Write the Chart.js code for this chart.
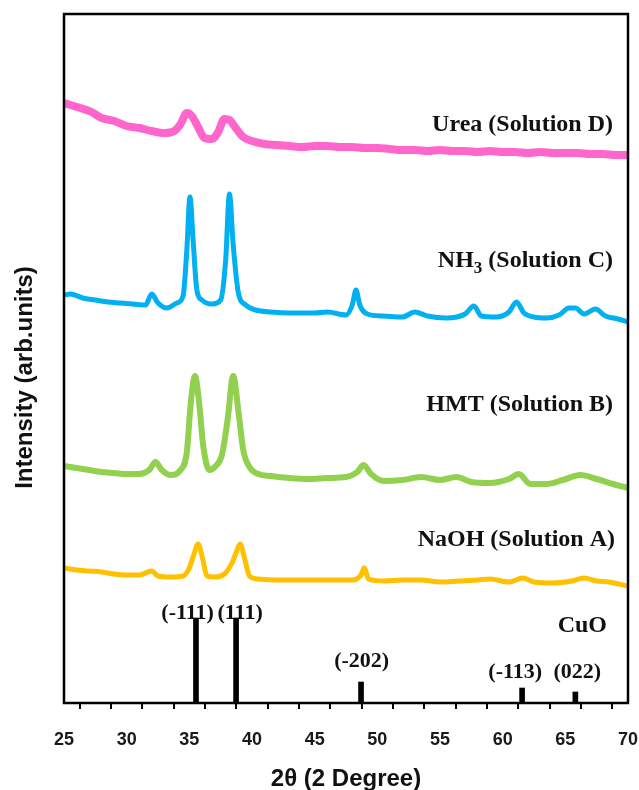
<!DOCTYPE html>
<html>
<head>
<meta charset="utf-8">
<script src="https://cdn.jsdelivr.net/npm/chart.js@4"></script>
<style>
  html, body { margin: 0; padding: 0; background: #fff; }
  canvas { display: block; }
</style>
</head>
<body>
<canvas id="xrd" width="639" height="790"></canvas>
<script>
// XRD patterns of CuO films grown from different solutions (offset stacked)

// Urea (Solution D)
const ureaTheta = [25, 25.5, 26.3, 27.2, 28, 29, 30, 31, 32, 33, 33.8, 34.3, 34.8, 35.2, 35.7, 36.2, 36.8, 37.3, 37.8, 38.2, 38.7, 39.3, 40, 41, 42, 43, 44, 45, 46, 47, 48, 49, 50, 51, 52, 53, 54, 55, 56, 57, 58, 59, 60, 61, 62, 63, 64, 65, 66, 67, 68, 69, 70];
const ureaInt = [600, 598, 595, 591, 585, 582, 577, 575, 572, 570, 572, 579, 590, 587, 576, 565, 564, 571, 584, 583, 575, 566, 562, 559, 558, 557, 556, 557, 557, 556, 556, 555, 555, 554, 553, 553, 552, 553, 552, 552, 551, 552, 551, 551, 550, 551, 550, 550, 550, 549, 549, 548, 548];

// NH3 (Solution C)
const nh3Theta = [25, 25.5, 26.5, 27.5, 28.5, 29.5, 30.5, 31.5, 32, 32.5, 33.2, 34, 34.5, 34.8, 35.05, 35.3, 35.6, 36, 36.8, 37.5, 37.9, 38.2, 38.5, 38.9, 39.5, 40.3, 41.5, 43, 45, 46, 47.5, 48, 48.3, 48.6, 49.2, 50.5, 52, 53, 54, 55.5, 57, 57.7, 58.3, 59.5, 60.5, 61.1, 61.7, 62.5, 63.5, 64.5, 65.3, 65.8, 66.5, 67.4, 68.2, 69.2, 70];
const nh3Int = [408, 409, 405, 403, 401, 400, 399, 398, 409, 400, 395, 400, 407, 453, 506, 463, 413, 403, 399, 403, 443, 509, 458, 411, 398, 393, 391, 390, 390, 391, 388, 398, 413, 398, 389, 387, 386, 391, 387, 385, 389, 397, 387, 386, 391, 401, 390, 386, 385, 388, 395, 395, 389, 394, 387, 384, 381];

// HMT (Solution B)
const hmtTheta = [25, 26, 27, 28, 29, 30, 31, 31.8, 32.3, 32.8, 33.5, 34.3, 34.8, 35.1, 35.45, 35.8, 36.1, 36.6, 37.1, 37.6, 38.05, 38.5, 38.95, 39.3, 39.8, 40.5, 41.5, 43, 44.5, 46, 47.5, 48.4, 48.9, 49.5, 50.5, 52, 53.5, 55, 56.3, 57.5, 59, 60.5, 61.3, 62.2, 63.5, 64.8, 66.2, 67.5, 68.8, 70];
const hmtInt = [237, 235, 233, 231, 230, 229, 229, 233, 241, 233, 228, 233, 251, 298, 327, 298, 258, 233, 237, 248, 283, 327, 288, 253, 236, 229, 227, 225, 224, 225, 226, 231, 238, 229, 222, 223, 226, 223, 226, 221, 220, 224, 229, 219, 219, 223, 228, 224, 219, 215];

// NaOH (Solution A)
const naohTheta = [25, 26, 27, 28, 29, 30, 31, 32, 32.5, 33.5, 34.5, 35, 35.35, 35.7, 36.05, 36.4, 37, 37.8, 38.4, 38.75, 39.05, 39.4, 39.8, 40.5, 42, 44, 46, 48, 48.7, 48.95, 49.3, 50.5, 52, 53.5, 55, 56.5, 58, 59, 60.5, 61.6, 62.5, 64, 65.5, 66.5, 67.5, 68.5, 70];
const naohInt = [135, 133, 132, 131, 129, 128, 128, 132, 127, 126, 127, 135, 148, 159, 145, 127, 126, 129, 140, 151, 159, 145, 127, 124, 123, 123, 123, 123, 128, 135, 124, 122, 123, 123, 121, 122, 123, 124, 121, 125, 121, 120, 122, 125, 122, 121, 117];

// CuO reference reflections
const cuoTheta = [35.53, 38.73, 48.7, 61.55, 65.8];
const cuoInt = [85, 85, 21, 15, 11];
const cuoHkl = ['(-111)', '(111)', '(-202)', '(-113)', '(022)'];

const seriesNames = ['Urea (Solution D)', 'NH3 (Solution C)', 'HMT (Solution B)', 'NaOH (Solution A)', 'CuO'];

const SANS = "'Liberation Sans', Arial, sans-serif";
const SERIF = "'Liberation Serif', 'Times New Roman', serif";

function pts(xs, ys) {
    return xs.map((x, i) => ({ x, y: ys[i] }));
}

function lineSet(xs, ys, color, width) {
    return {
        type: 'line',
        data: pts(xs, ys),
        borderColor: color,
        borderWidth: width,
        pointRadius: 0,
        cubicInterpolationMode: 'monotone',
        borderJoinStyle: 'round',
    };
}

// frame + all the text annotations
const annotate = {
    id: 'annotate',
    afterDraw(chart) {
        const { ctx, chartArea: a, scales } = chart;
        const sx = v => scales.x.getPixelForValue(v);
        const sy = v => scales.y.getPixelForValue(v);
        ctx.save();

        ctx.strokeStyle = '#000';
        ctx.lineWidth = 2.5;
        ctx.strokeRect(a.left, a.top, a.right - a.left, a.bottom - a.top);

        // y title
        ctx.fillStyle = '#111';
        ctx.font = `bold 24px ${SANS}`;
        ctx.textAlign = 'center';
        ctx.textBaseline = 'middle';
        ctx.translate(25, (a.top + a.bottom) / 2 + 19);
        ctx.rotate(-Math.PI / 2);
        ctx.fillText('Intensity (arb.units)', 0, 0);
        ctx.setTransform(1, 0, 0, 1, 0, 0);

        // sample names
        ctx.font = `bold 24px ${SERIF}`;
        ctx.textAlign = 'right';
        ctx.textBaseline = 'alphabetic';
        ctx.fillText(seriesNames[0], a.right - 15, sy(572));
        // NH3 with subscript
        const tail = ' (Solution C)';
        const xr = a.right - 15;
        const yb = sy(436);
        ctx.fillText(tail, xr, yb);
        const wTail = ctx.measureText(tail).width;
        ctx.font = `bold 17px ${SERIF}`;
        ctx.fillText('3', xr - wTail, yb + 6);
        const w3 = ctx.measureText('3').width;
        ctx.font = `bold 24px ${SERIF}`;
        ctx.fillText('NH', xr - wTail - w3, yb);
        ctx.fillText(seriesNames[2], a.right - 15, sy(292));
        ctx.fillText(seriesNames[3], a.right - 13, sy(157));
        ctx.fillText(seriesNames[4], a.right - 21, sy(71));

        // hkl labels
        ctx.font = `bold 22px ${SERIF}`;
        ctx.textAlign = 'center';
        const dx = [-0.67, 0.32, 0.05, -0.55, 0.15];
        const yl = [84, 84, 36, 25, 25];
        cuoHkl.forEach((t, i) => {
            ctx.fillText(t, sx(cuoTheta[i] + dx[i]), sy(yl[i]));
        });
        ctx.restore();
    }
};

new Chart(document.getElementById('xrd'), {
    type: 'line',
    data: {
        datasets: [
            lineSet(ureaTheta, ureaInt, '#ff66cc', 8),
            lineSet(nh3Theta, nh3Int, '#00b0f0', 5),
            lineSet(hmtTheta, hmtInt, '#92d050', 6),
            lineSet(naohTheta, naohInt, '#ffc000', 5),
            {
                type: 'bar',
                data: pts(cuoTheta, cuoInt),
                backgroundColor: '#000',
                barThickness: 5,
            },
        ]
    },
    options: {
        responsive: false,
        animation: false,
        layout: { padding: { left: 64, right: 11, top: 14, bottom: 0 } },
        plugins: {
            legend: { display: false },
            tooltip: { enabled: false },
        },
        scales: {
            x: {
                type: 'linear',
                min: 25,
                max: 70,
                offset: false,
                border: { display: false },
                grid: {
                    drawOnChartArea: false,
                    tickLength: 6,
                    color: '#000',
                    lineWidth: 2,
                },
                ticks: {
                    stepSize: 2.5,
                    autoSkip: false,
                    maxRotation: 0,
                    padding: 20,
                    color: '#1a1a1a',
                    font: { family: SANS, size: 18, weight: 'bold' },
                    callback: v => (v % 5 === 0 ? v : ''),
                },
                title: {
                    display: true,
                    text: '2θ (2 Degree)',
                    color: '#111',
                    font: { family: SANS, size: 24, weight: 'bold' },
                    padding: { top: 0, bottom: -4 },
                },
                afterFit(scale) {
                    scale.height = 87;
                    scale.paddingLeft = 0;
                    scale.paddingRight = 0;
                },
            },
            y: { display: false, min: 0, max: 689 },
        },
    },
    plugins: [annotate],
});
</script>
</body>
</html>
